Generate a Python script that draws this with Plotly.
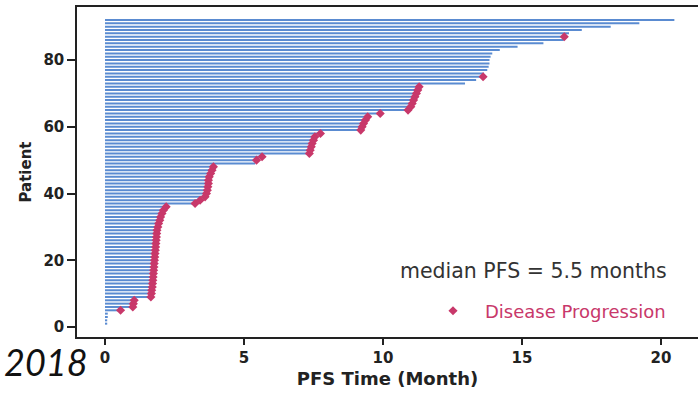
import plotly.graph_objects as go

# ---------------- data ----------------
patients = list(range(1, 93))
pfs = [
    0.08, 0.08, 0.10, 0.10, 0.56, 1.00, 1.02, 1.05,
    1.65, 1.67, 1.68, 1.70, 1.71, 1.72, 1.73, 1.74, 1.75, 1.76,
    1.77, 1.78, 1.79, 1.80, 1.81, 1.82, 1.83, 1.84, 1.85, 1.86,
    1.87, 1.90, 1.93, 1.97, 2.00, 2.05, 2.10, 2.20,
    3.24, 3.42, 3.60, 3.65, 3.68, 3.70, 3.72, 3.72, 3.75, 3.80, 3.85, 3.90,
    5.40, 5.45, 5.65,
    7.35, 7.38, 7.42, 7.45, 7.50, 7.55, 7.75,
    9.20, 9.25, 9.30, 9.37, 9.45, 9.90,
    10.90, 11.00, 11.05, 11.10, 11.15, 11.20, 11.25, 11.30,
    12.95, 13.35, 13.60, 13.63, 13.75, 13.80, 13.83, 13.83, 13.87, 13.93,
    14.20, 14.84, 15.77, 16.50, 16.52, 16.69, 17.15, 18.19, 19.22, 20.48,
]
progressed = [
    0, 0, 0, 0, 1, 1, 1, 1,
    1, 1, 1, 1, 1, 1, 1, 1, 1, 1,
    1, 1, 1, 1, 1, 1, 1, 1, 1, 1,
    1, 1, 1, 1, 1, 1, 1, 1,
    1, 1, 1, 1, 1, 1, 1, 1, 1, 1, 1, 1,
    0, 1, 1,
    1, 1, 1, 1, 1, 1, 1,
    1, 1, 1, 1, 1, 1,
    1, 1, 1, 1, 1, 1, 1, 1,
    0, 0, 1, 0, 0, 0, 0, 0, 0, 0,
    0, 0, 0, 0, 1, 0, 0, 0, 0, 0,
]
x_ticks = [0, 5, 10, 15, 20]
y_ticks = [0, 20, 40, 60, 80]
median_text = "median PFS = 5.5 months"
legend_label = "Disease Progression"
side_text = "2018"

# ---------------- layout constants ----------------
W, H = 698, 394
ML, MR, MT, MB = 77, 0, 7, 57
PW, PH = W - ML - MR, H - MT - MB

def px_x(px):
    return (px - ML) / PW

def px_y(py):
    return (H - MB - py) / PH

BLUE = "#5a8bd1"
RED = "#c8386a"

line_x, line_y = [], []
for p, t in zip(patients, pfs):
    line_x += [0, t, None]
    line_y += [p, p, None]

fig = go.Figure()
fig.add_trace(go.Scatter(
    x=line_x, y=line_y, mode="lines",
    line=dict(color=BLUE, width=2),
    showlegend=False, hoverinfo="skip",
))
fig.add_trace(go.Scatter(
    x=[t for t, f in zip(pfs, progressed) if f],
    y=[p for p, f in zip(patients, progressed) if f],
    mode="markers",
    marker=dict(symbol="diamond", size=7, color=RED),
    name=legend_label, showlegend=True,
))

tick_font = dict(family="DejaVu Sans", size=15, color="#222222", weight="bold")

fig.update_layout(
    width=W, height=H,
    margin=dict(l=ML, r=MR, t=MT, b=MB, autoexpand=False),
    paper_bgcolor="white", plot_bgcolor="white",
    xaxis=dict(
        range=[-1.007, 21.33], tickvals=x_ticks, automargin=False,
        showgrid=False, zeroline=False,
        showline=True, linecolor="#222222", linewidth=2, mirror=True,
        ticks="outside", ticklen=6, tickwidth=1.5, tickcolor="#222222",
        tickfont=tick_font,
        title=dict(text="PFS Time (Month)", standoff=6,
                   font=dict(family="DejaVu Sans", size=18, color="#222222", weight="bold")),
    ),
    yaxis=dict(
        range=[-3.0, 95.9], tickvals=y_ticks, automargin=False,
        showgrid=False, zeroline=False,
        showline=True, linecolor="#222222", linewidth=1.5,
        ticks="outside", ticklen=8, tickwidth=1.5, tickcolor="#222222",
        tickfont=tick_font,
        title=dict(text="Patient", standoff=8,
                   font=dict(family="DejaVu Sans", size=15, color="#222222", weight="bold")),
    ),
    legend=dict(
        x=px_x(421), y=px_y(311), xanchor="left", yanchor="middle",
        bgcolor="rgba(0,0,0,0)", borderwidth=0, itemwidth=54,
        font=dict(family="DejaVu Sans", size=18, color=RED),
    ),
    annotations=[
        dict(text=median_text, xref="paper", yref="paper",
             x=px_x(398), y=px_y(270.5), xanchor="left", yanchor="middle",
             showarrow=False,
             font=dict(family="DejaVu Sans", size=20.5, color="#333333")),
        dict(text=side_text, xref="paper", yref="paper",
             x=px_x(90), y=px_y(362), xanchor="right", yanchor="middle",
             showarrow=False,
             font=dict(family="Lato", size=36, color="#111111", style="italic")),
    ],
)

fig.write_html("out.html", config={"displayModeBar": False},
               post_script="document.body.style.margin='0';")
